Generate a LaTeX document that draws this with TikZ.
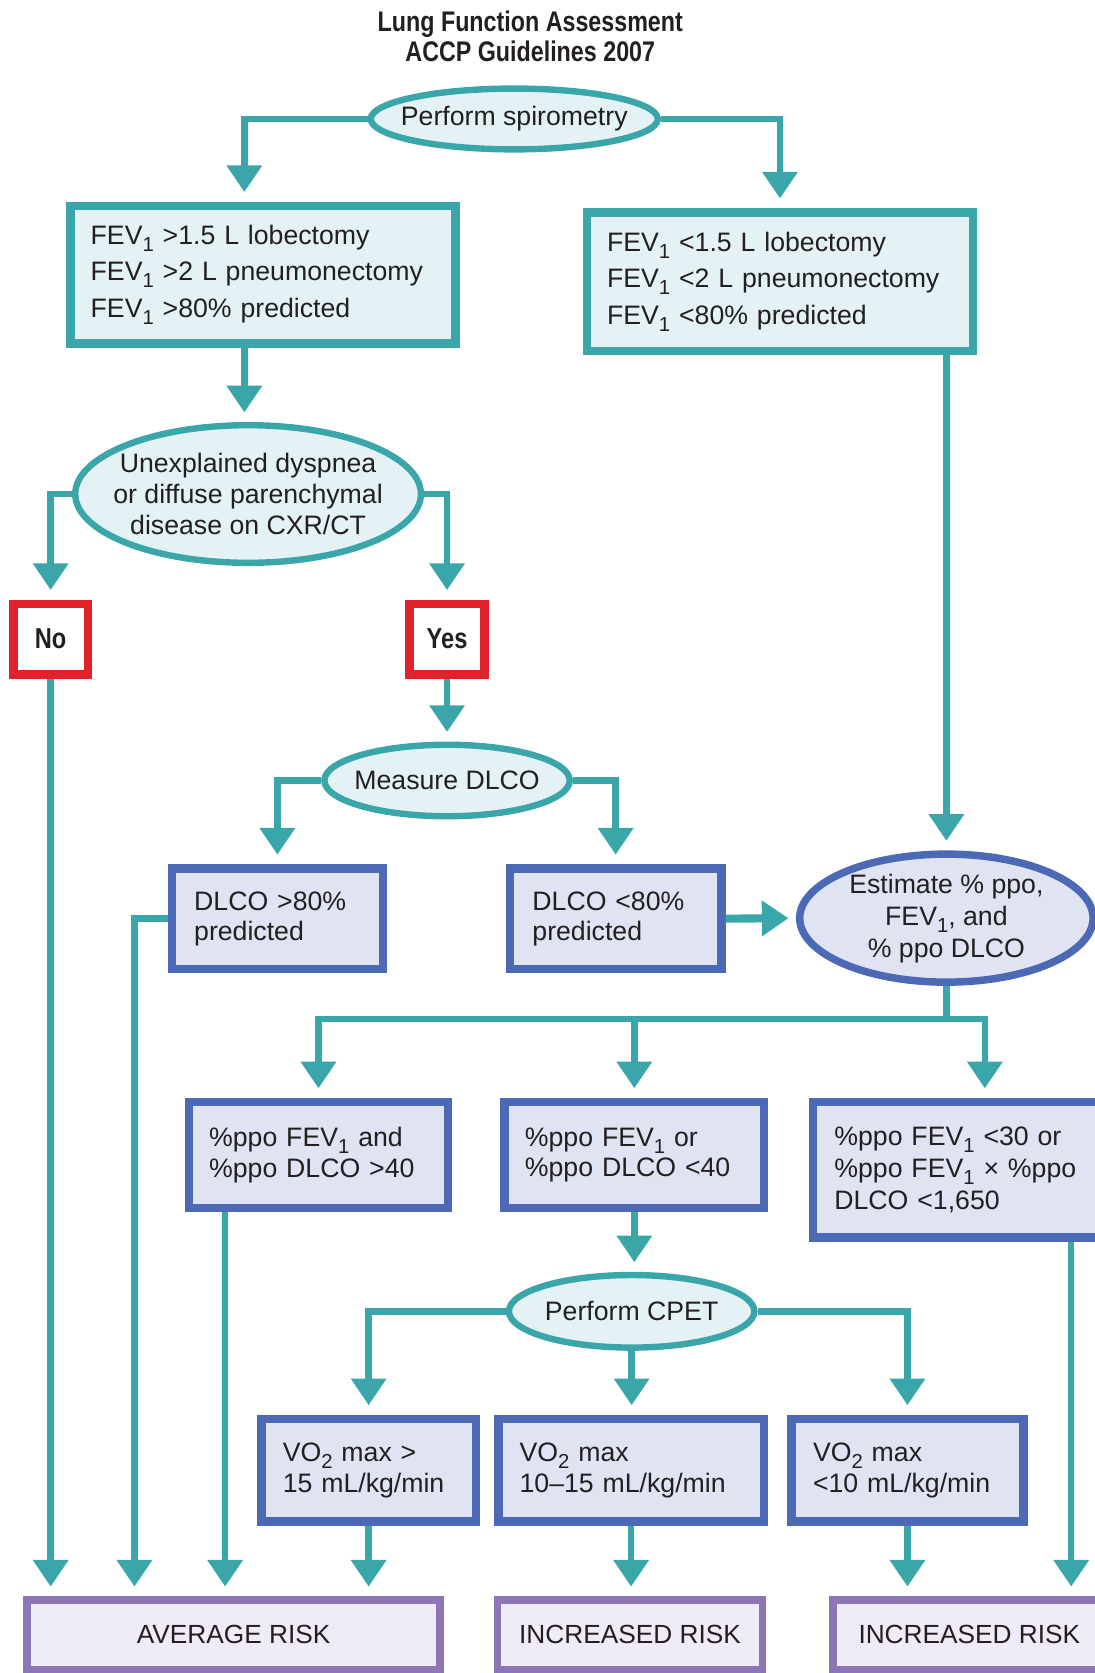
\documentclass[tikz,border=0pt]{standalone}
\usepackage{fontspec}
\setmainfont{Liberation Sans}
\newfontfamily\headfont[FakeStretch=0.82]{Liberation Sans}
\usetikzlibrary{arrows.meta,shapes.geometric}

\definecolor{tealline}{HTML}{3AA6AA}
\definecolor{tealfill}{HTML}{E4F2F5}
\definecolor{blueline}{HTML}{4B69B4}
\definecolor{bluefill}{HTML}{DFE3F2}
\definecolor{redline}{HTML}{E2222B}
\definecolor{purpline}{HTML}{8E76B6}
\definecolor{purpfill}{HTML}{F0ECF7}
\definecolor{ink}{HTML}{231F20}

% lowered subscript digit, as in FEV1 and VO2
\newcommand\lowsub[1]{\raisebox{-0.5ex}{\fontsize{9.5}{9.5}\selectfont#1}}

\tikzset{
  every node/.style={text=ink, font=\fontsize{12.5}{15}\selectfont},
  tealbox/.style={rectangle, draw=tealline, fill=tealfill, line width=4pt,
    align=left, inner ysep=0pt, inner xsep=9.5pt},
  % negative inner sep: the ellipse size is set by minimum width/height alone
  tealell/.style={ellipse, draw=tealline, fill=tealfill, line width=3pt,
    inner xsep=-22pt, inner ysep=-6pt, align=center},
  bluebox/.style={rectangle, draw=blueline, fill=bluefill, line width=4pt,
    align=left, inner ysep=0pt, inner xsep=10pt},
  blueell/.style={ellipse, draw=blueline, fill=bluefill, line width=3.5pt,
    inner xsep=-22pt, inner ysep=-6pt, align=center},
  answer/.style={rectangle, draw=redline, fill=white, line width=4pt,
    inner sep=0pt, minimum width=35pt, minimum height=33pt,
    font=\headfont\bfseries\fontsize{13.5}{15}\selectfont},
  riskbox/.style={rectangle, draw=purpline, fill=purpfill, line width=3.5pt,
    inner sep=0pt, minimum height=32.5pt,
    font=\fontsize{12.3}{15}\selectfont},
  conn/.style={draw=tealline, line width=3pt},
  arr/.style={conn, -{Triangle[width=16pt,length=12.5pt]}, shorten >=4.5pt},
}

\begin{document}
\begin{tikzpicture}[x=0.5pt,y=-0.5pt]
\useasboundingbox (0,0) rectangle (1026,1568);

% heading
\node[font=\headfont\bfseries\fontsize{13.3}{14}\selectfont, align=center]
  (title) at (497,34) {Lung Function Assessment\\ACCP Guidelines 2007};

% spirometry stage
\node[tealell, minimum width=134.5pt, minimum height=28.5pt]
  (spiro) at (482,111.5) {Perform spirometry};
\node[tealbox, text width=161.5pt, minimum height=64.5pt,
  font=\fontsize{12.5}{17}\selectfont] (b1) at (246.5,257.5)
  {FEV\lowsub{1} >1.5~L~lobectomy\\FEV\lowsub{1} >2~L~pneumonectomy\\FEV\lowsub{1} >80\%~predicted};
\node[tealbox, text width=162pt, minimum height=65pt,
  font=\fontsize{12.5}{17}\selectfont] (b2) at (731,264)
  {FEV\lowsub{1} <1.5~L~lobectomy\\FEV\lowsub{1} <2~L~pneumonectomy\\FEV\lowsub{1} <80\%~predicted};

% dyspnea question
\node[tealell, minimum width=162pt, minimum height=64.5pt,
  font=\fontsize{12.5}{14.5}\selectfont] (dysp) at (232.5,463)
  {Unexplained dyspnea\\or diffuse parenchymal\\disease on CXR/CT};
\node[answer] (no) at (47.5,599) {No};
\node[answer] (yes) at (419,599) {Yes};

% DLCO stage
\node[tealell, minimum width=115pt, minimum height=33.5pt]
  (dlco) at (419,731.5) {Measure DLCO};
\node[bluebox, text width=78pt, inner xsep=10.5pt, minimum height=47pt,
  font=\fontsize{12.5}{14}\selectfont] (dA) at (260,861)
  {DLCO~>80\%\\predicted};
\node[bluebox, text width=78pt, inner xsep=10.5pt, minimum height=47pt,
  font=\fontsize{12.5}{14}\selectfont] (dB) at (577,861)
  {DLCO~<80\%\\predicted};
\node[blueell, minimum width=137.5pt, minimum height=60pt]
  (est) at (887,860.5) {Estimate \% ppo,\\FEV\lowsub{1}, and\\\% ppo DLCO};

% predicted postoperative values
\node[bluebox, text width=102.5pt, inner xsep=9.5pt, minimum height=49.5pt,
  font=\fontsize{12.5}{14.5}\selectfont] (pA) at (298.5,1082.5)
  {\%ppo~FEV\lowsub{1}~and\\\%ppo~DLCO~>40};
\node[bluebox, text width=102.5pt, inner xsep=9.5pt, minimum height=49.5pt,
  font=\fontsize{12.5}{14.5}\selectfont] (pB) at (594.5,1082.5)
  {\%ppo~FEV\lowsub{1}~or\\\%ppo~DLCO~<40};
\node[bluebox, text width=114pt, inner xsep=10pt, minimum height=63.5pt,
  font=\fontsize{12.5}{15}\selectfont] (pC) at (896,1096.5)
  {\%ppo~FEV\lowsub{1}~<30~or\\\%ppo~FEV\lowsub{1}~×~\%ppo\\DLCO~<1,650};

% exercise testing
\node[tealell, minimum width=115pt, minimum height=34pt]
  (cpet) at (592,1229) {Perform CPET};
\node[bluebox, text width=80.5pt, minimum height=48pt,
  font=\fontsize{12.5}{14.5}\selectfont] (v1) at (345.5,1378)
  {VO\lowsub{2}~max~>\\15~mL/kg/min};
\node[bluebox, text width=104.5pt, minimum height=48pt,
  font=\fontsize{12.5}{14.5}\selectfont] (v2) at (591.5,1378)
  {VO\lowsub{2}~max\\10--15~mL/kg/min};
\node[bluebox, text width=88.5pt, minimum height=48pt,
  font=\fontsize{12.5}{14.5}\selectfont] (v3) at (850.5,1378)
  {VO\lowsub{2}~max\\<10~mL/kg/min};

% outcomes
\node[riskbox, minimum width=193.5pt] (r1) at (219,1532) {AVERAGE RISK};
\node[riskbox, minimum width=124pt] (r2) at (590.5,1532) {INCREASED RISK};
\node[riskbox, minimum width=128pt] (r3) at (908.5,1532) {INCREASED RISK};

% columns of the long connectors
\coordinate (xa) at (229,0);
\coordinate (xd) at (126,0);
\coordinate (xe) at (211,0);
\coordinate (xc) at (923,0);
\coordinate (xg) at (1004,0);
\coordinate (split) at (887,955);

% connectors
\draw[arr] (spiro.west) -| (b1.north -| xa);
\draw[arr] (spiro.east) -| (b2.north);
\draw[arr] (b1.south -| xa) -- (xa |- dysp.north);
\draw[arr] (dysp.west) -| (no.north);
\draw[arr] (dysp.east) -| (yes.north);
\draw[arr] (no.south) -- (no.south |- r1.north);
\draw[arr] (yes.south) -- (dlco.north);
\draw[arr] (dlco.west) -| (dA.north);
\draw[arr] (dlco.east) -| (dB.north);
\draw[conn, line width=3.8pt, -{Triangle[width=16pt,length=12.5pt]}, shorten >=3.5pt]
  (dB.east) -- (est.west);
\draw[arr] (b2.south -| est.north) -- (est.north);
\draw[arr] (dA.west) -| (xd |- r1.north);
\draw[conn] (est.south) -- (split);
\draw[arr] (split) -| (pA.north);
\draw[arr] (split) -| (xc |- pC.north);
\draw[arr] (pB.north |- split) -- (pB.north);
\draw[arr] (pA.south -| xe) -- (xe |- r1.north);
\draw[arr] (pB.south) -- (pB.south |- cpet.north);
\draw[arr] (pC.south -| xg) -- (xg |- r3.north);
\draw[arr] (cpet.west) -| (v1.north);
\draw[arr] (cpet.south) -- (cpet.south |- v2.north);
\draw[arr] (cpet.east) -| (v3.north);
\draw[arr] (v1.south) -- (v1.south |- r1.north);
\draw[arr] (v2.south) -- (v2.south |- r2.north);
\draw[arr] (v3.south) -- (v3.south |- r3.north);
\end{tikzpicture}
\end{document}
